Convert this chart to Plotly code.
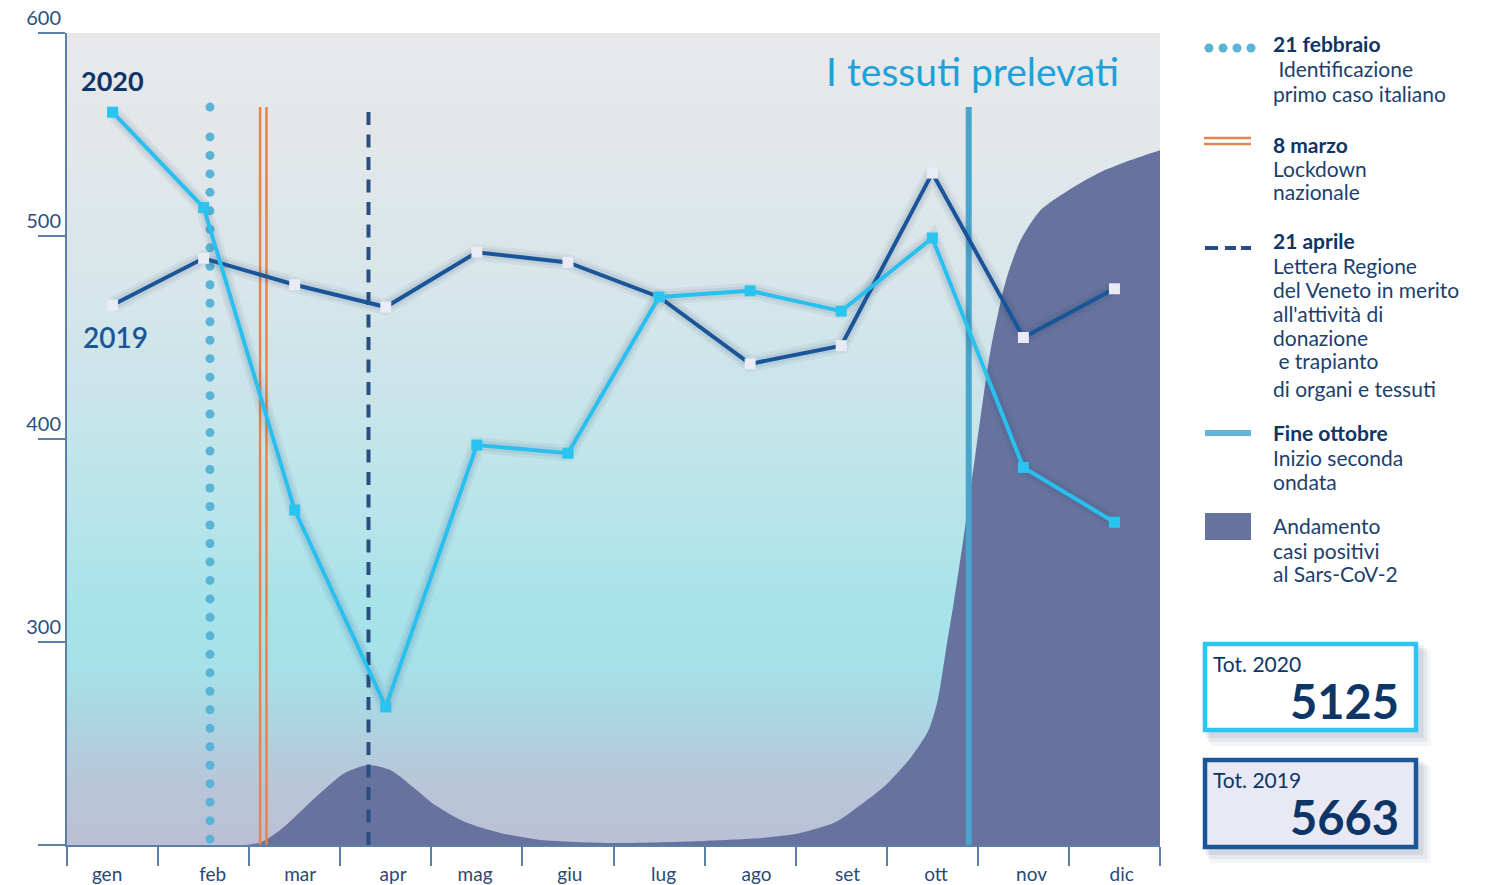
import numpy as np
import plotly.graph_objects as go

# ---------------- data ----------------
mesi = ["gen", "feb", "mar", "apr", "mag", "giu", "lug", "ago", "set", "ott", "nov", "dic"]
tessuti_2020 = [561, 514, 365, 268, 397, 393, 470, 473, 463, 499, 386, 359]
tessuti_2019 = [466, 489, 476, 465, 492, 487, 470, 437, 446, 531, 450, 474]
tot_2020 = 5125
tot_2019 = 5663

# andamento casi positivi (indice relativo, scala arbitraria), posizione in mesi
casi_x = [0.0, 1.96, 2.14, 2.34, 2.56, 2.78, 3.05, 3.31, 3.55, 3.77, 4.04, 4.37, 4.76, 5.20,
          6.0, 7.0, 7.62, 8.05, 8.44, 8.71, 8.99, 9.26, 9.46, 9.56, 9.65, 9.74, 9.84, 9.98,
          10.14, 10.31, 10.47, 10.69, 11.0, 11.35, 11.68, 12.01]
casi_v = [0, 0, 1.5, 7.4, 16.3, 25.6, 35.5, 39.4, 36.9, 29.6, 19.7, 11.3, 5.9, 2.5,
          1.0, 2.0, 3.4, 5.9, 11.3, 19.7, 29.6, 42.9, 56.7, 71.4, 96.1, 120.7, 150.2, 194.6,
          243.8, 278.3, 298.0, 312.8, 322.7, 331.5, 337.4, 342.4]

# eventi (posizione sull'asse dei mesi)
ev_feb = 1.57
ev_mar = (2.12, 2.19)
ev_apr = 3.31
ev_ott = 9.90

# ---------------- styles ----------------
FONT = "Lato"
NAVY = "#0d3566"
TXT = "#1c3f6e"
AX = "#5b7fa6"
C2020 = "#29c0ef"
C2019 = "#1a5599"
AREA = "#66739e"
ORANGE = "#e8834a"
DOTC = "#5ab4d6"
DASHC = "#2a4f7f"
OTTC = "#48a6cc"

L, R, T, B = 67, 1160, 33, 845
W, H = 1488, 885

# month label placement along the axis (as in the original layout)
label_pos = [0.44, 1.60, 2.56, 3.58, 4.48, 5.52, 6.55, 7.57, 8.57, 9.54, 10.59, 11.58]


def pxx(x):
    return (x - L) / (R - L)


def pxy(y):
    return (B - y) / (B - T)


xc = [i + 0.5 for i in range(12)]
YMIN, YMAX = 200, 600
ytop_ev = 563.5

fig = go.Figure()

# background gradient
yy = np.linspace(YMIN, YMAX, 81)
fig.add_trace(go.Heatmap(
    x=[0, 12], y=yy, z=[[v, v] for v in yy], zsmooth="best", showscale=False,
    hoverinfo="skip", zmin=YMIN, zmax=YMAX,
    colorscale=[[0.0, "#bbbfd5"], [0.08, "#b8c6d9"], [0.16, "#abd6e3"], [0.22, "#a6e1ea"],
                [0.30, "#a8e3ea"], [0.40, "#b7e4eb"], [0.55, "#c9e5ea"], [0.70, "#d8e6ea"],
                [0.85, "#e2e7ea"], [1.0, "#e8e8ea"]]))

# area casi positivi
fig.add_trace(go.Scatter(x=casi_x, y=[YMIN + v for v in casi_v], mode="lines", fill="tozeroy",
                         fillcolor=AREA, line=dict(width=0, color=AREA, shape="spline",
                                                   smoothing=0.7),
                         hoverinfo="skip"))

# event lines
dot_y = [ytop_ev] + list(np.linspace(548.8, 202.9, 39))
fig.add_trace(go.Scatter(x=[ev_feb] * len(dot_y), y=dot_y, mode="markers",
                         marker=dict(size=9, color=DOTC), hoverinfo="skip"))
for xm in ev_mar:
    fig.add_trace(go.Scatter(x=[xm, xm], y=[YMIN, ytop_ev], mode="lines",
                             line=dict(color=ORANGE, width=2.5), hoverinfo="skip"))
fig.add_trace(go.Scatter(x=[ev_apr, ev_apr], y=[YMIN, ytop_ev], mode="lines",
                         line=dict(color=DASHC, width=4, dash="13px,9.5px"), hoverinfo="skip"))
fig.add_trace(go.Scatter(x=[ev_ott, ev_ott], y=[YMIN, ytop_ev], mode="lines",
                         line=dict(color=OTTC, width=6), hoverinfo="skip"))

# shadows
for ser in (tessuti_2019, tessuti_2020):
    for w, a in ((16, 0.06), (10, 0.08)):
        fig.add_trace(go.Scatter(x=xc, y=ser, mode="lines", hoverinfo="skip",
                                 line=dict(color=f"rgba(40,60,110,{a})", width=w)))

# series
fig.add_trace(go.Scatter(x=xc, y=tessuti_2019, mode="lines+markers", name="2019",
                         line=dict(color=C2019, width=4),
                         marker=dict(symbol="square", size=11, color="#ebebf5")))
fig.add_trace(go.Scatter(x=xc, y=tessuti_2020, mode="lines+markers", name="2020",
                         line=dict(color=C2020, width=4),
                         marker=dict(symbol="square", size=11, color="#29c4f0")))

ann = []
# in-plot texts
ann.append(dict(x=pxx(79), y=pxy(80), xref="paper", yref="paper", text="<b>2020</b>",
                showarrow=False, xanchor="left", yanchor="middle",
                font=dict(family=FONT, size=27, color=NAVY)))
ann.append(dict(x=pxx(81), y=pxy(337), xref="paper", yref="paper", text="2019",
                showarrow=False, xanchor="left", yanchor="middle",
                font=dict(family=FONT, size=28, color=C2019, weight=600)))
ann.append(dict(x=pxx(1121), y=pxy(71), xref="paper", yref="paper", text="I tessuti prelevati",
                showarrow=False, xanchor="right", yanchor="middle",
                font=dict(family=FONT, size=39, color="#1da1db")))

# legend texts
leg_lines = [
    ("<b>21 febbraio</b>", 44), (" Identificazione", 68), ("primo caso italiano", 93),
    ("<b>8 marzo</b>", 144), ("Lockdown", 168), ("nazionale", 192),
    ("<b>21 aprile</b>", 240), ("Lettera Regione", 265), ("del Veneto in merito", 289),
    ("all'attività di", 313), ("donazione", 337), (" e trapianto", 361),
    ("di organi e tessuti", 388),
    ("<b>Fine ottobre</b>", 432), ("Inizio seconda", 457), ("ondata", 481),
    ("Andamento", 525), ("casi positivi", 550), ("al Sars-CoV-2", 573),
]
for t, y in leg_lines:
    ann.append(dict(x=pxx(1271), y=pxy(y), xref="paper", yref="paper", text=t,
                    showarrow=False, xanchor="left", yanchor="middle",
                    font=dict(family=FONT, size=21, color=NAVY if "<b>" in t else TXT)))

# totals boxes
ann.append(dict(x=pxx(1211), y=pxy(663), xref="paper", yref="paper", text="Tot. 2020",
                showarrow=False, xanchor="left", yanchor="middle",
                font=dict(family=FONT, size=21, color=NAVY)))
ann.append(dict(x=pxx(1401), y=pxy(701), xref="paper", yref="paper", text=f"<b>{tot_2020}</b>",
                showarrow=False, xanchor="right", yanchor="middle",
                font=dict(family=FONT, size=47, color=NAVY)))
ann.append(dict(x=pxx(1211), y=pxy(779), xref="paper", yref="paper", text="Tot. 2019",
                showarrow=False, xanchor="left", yanchor="middle",
                font=dict(family=FONT, size=21, color=NAVY)))
ann.append(dict(x=pxx(1401), y=pxy(817), xref="paper", yref="paper", text=f"<b>{tot_2019}</b>",
                showarrow=False, xanchor="right", yanchor="middle",
                font=dict(family=FONT, size=47, color=NAVY)))

shapes = []


def rect(x0, y0, x1, y1, **kw):
    shapes.append(dict(type="rect", xref="paper", yref="paper", x0=pxx(x0), x1=pxx(x1),
                       y0=pxy(y1), y1=pxy(y0), **kw))


def line(x0, y0, x1, y1, **kw):
    shapes.append(dict(type="line", xref="paper", yref="paper", x0=pxx(x0), x1=pxx(x1),
                       y0=pxy(y0), y1=pxy(y1), **kw))


# legend symbols
for cx in (1209, 1223, 1237, 1251):
    shapes.append(dict(type="circle", xref="paper", yref="paper",
                       x0=pxx(cx - 4.5), x1=pxx(cx + 4.5), y0=pxy(48 + 4.5), y1=pxy(48 - 4.5),
                       fillcolor=DOTC, line=dict(width=0)))
line(1204, 138, 1251, 138, line=dict(color=ORANGE, width=2.5))
line(1204, 144, 1251, 144, line=dict(color=ORANGE, width=2.5))
for a, b in ((1205, 1218), (1225, 1236), (1241, 1251)):
    line(a, 248, b, 248, line=dict(color=DASHC, width=4))
line(1205, 433, 1251, 433, line=dict(color="#5fb6d8", width=6))
rect(1205, 513, 1251, 540, fillcolor=AREA, line=dict(width=0))

# box shadows
for (y0, y1) in ((642, 732), (758, 849)):
    for d, a in ((14, 0.05), (10, 0.07), (6, 0.09)):
        rect(1203 + d * 0.5, y0 + d * 0.6, 1418 + d * 0.9, y1 + d * 1.0,
             fillcolor=f"rgba(30,50,100,{a})", line=dict(width=0))
rect(1205, 644, 1416, 730, fillcolor="white", line=dict(color="#2cc5f2", width=4.5))
rect(1205, 760, 1416, 847, fillcolor="#e8e9f4", line=dict(color="#1b5697", width=4.5))

fig.update_layout(
    width=W, height=H, margin=dict(l=L, r=W - R, t=T, b=H - B, pad=0, autoexpand=False),
    paper_bgcolor="white", plot_bgcolor="white", showlegend=False,
    annotations=ann, shapes=shapes, hovermode=False,
    xaxis=dict(range=[0, 12], tickvals=label_pos, ticktext=mesi,
               ticks="outside", ticklen=11, tickcolor="rgba(0,0,0,0)", automargin=False,
               showgrid=False, zeroline=False, showline=True, linecolor=AX, linewidth=2,
               tickfont=dict(family=FONT, size=19, color="#2a4a78"),
               minor=dict(tickvals=list(range(13)), ticks="outside", ticklen=19,
                          tickcolor=AX, tickwidth=2, showgrid=False),
               fixedrange=True),
    yaxis=dict(range=[YMIN, YMAX], tickvals=[200, 300, 400, 500, 600],
               ticktext=["", "300", "400", "500", "600"], automargin=False,
               ticks="outside", ticklen=27, tickcolor=AX, tickwidth=2,
               ticklabelposition="outside top",
               showgrid=False, zeroline=False, showline=True, linecolor=AX, linewidth=2,
               tickfont=dict(family=FONT, size=20, color="#2d4f7c"), fixedrange=True),
)

fig.write_html("out.html", config={"displayModeBar": False},
               post_script="document.body.style.margin='0';document.body.style.overflow='hidden';")
